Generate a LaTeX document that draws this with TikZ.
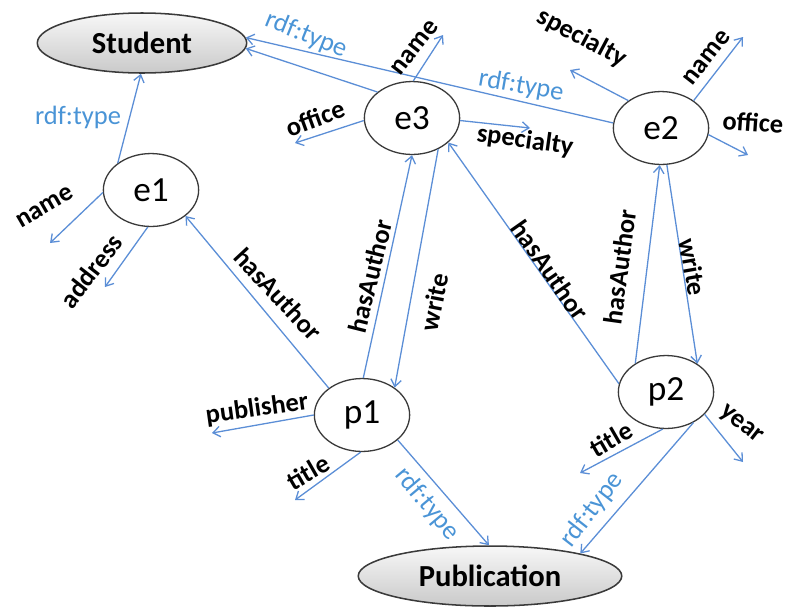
\documentclass[tikz,border=0pt]{standalone}
\usepackage{fontspec}
\setmainfont{Carlito}
\usetikzlibrary{arrows.meta,shapes.geometric}
\definecolor{linkblue}{HTML}{5B8ED6}
\definecolor{typeblue}{HTML}{4A94D6}
\definecolor{rimgray}{HTML}{3A3A3A}
\tikzset{
  ent/.style={ellipse, draw=rimgray, line width=1.1pt, fill=white,
    minimum width=81pt, minimum height=62pt, inner sep=0pt,
    font=\fontsize{30}{30}\selectfont},
  cls/.style={ellipse, draw=rimgray, line width=1.3pt, top color=gray!6,
    bottom color=gray!42, minimum height=51pt, inner sep=0pt,
    font=\bfseries\fontsize{26}{28}\selectfont},
  link/.style={-{Straight Barb[length=6pt,width=9pt]}, line width=1.1pt, draw=linkblue},
  prop/.style={font=\bfseries\fontsize{22.5}{24}\selectfont, inner sep=0pt},
  typ/.style={font=\fontsize{22.5}{24}\selectfont, text=typeblue, inner sep=0pt},
}

\begin{document}
\begin{tikzpicture}[x=0.85pt,y=-0.85pt]
  \useasboundingbox (0,0) rectangle (797,607);
  % classes
  \node[cls, minimum width=178pt] (student) at (142,43) {Student};
  \node[cls, minimum width=224pt] (publication) at (490,576) {Publication};
  % resources
  \node[ent] (e1) at (151,190) {e1};
  \node[ent] (e3) at (412,118) {e3};
  \node[ent] (e2) at (661,128) {e2};
  \node[ent] (p1) at (362,415) {p1};
  \node[ent] (p2) at (666,392) {p2};
  % free ends of the literal properties
  \coordinate (e1name) at (50,243);
  \coordinate (e1addr) at (105,287);
  \coordinate (e3name) at (443,35);
  \coordinate (e3office) at (295,143);
  \coordinate (e3spec) at (530,128);
  \coordinate (e2spec) at (570,70);
  \coordinate (e2name) at (743,37);
  \coordinate (e2office) at (748,155);
  \coordinate (p1pub) at (212,433);
  \coordinate (p1title) at (295,500);
  \coordinate (p2title) at (580,473);
  \coordinate (p2year) at (743,462);

  % rdf:type links
  \draw[link] (e1.141) -- (student.-92);
  \draw[link] (e3.143) -- (student.-3);
  \draw[link] (e2.174) -- (student.3);
  \draw[link] (p1.325) -- (publication.92);
  \draw[link] (p2.312) -- (publication.14);
  \node[typ] (te1) at (78,117) {rdf:type};
  \node[typ, rotate=-22] (te3) at (306,35) {rdf:type};
  \node[typ, rotate=-10] (te2) at (521,86) {rdf:type};
  \node[typ, rotate=-50] (tp1) at (427,504) {rdf:type};
  \node[typ, rotate=52] (tp2) at (592,510) {rdf:type};

  % object properties
  \draw[link] (p1.141) -- (e1.323);
  \draw[link] (p1.88) -- (e3.270);
  \draw[link] (e3.310) -- (p1.40);
  \draw[link] (p2.170) -- (e3.326);
  \draw[link] (p2.137) -- (e2.268);
  \draw[link] (e2.279) -- (p2.42);
  \node[prop, rotate=-47] (ha1) at (278,294) {hasAuthor};
  \node[prop, rotate=76] (ha2) at (370,276) {hasAuthor};
  \node[prop, rotate=79] (wr1) at (434,302) {write};
  \node[prop, rotate=-55] (ha3) at (550,270) {hasAuthor};
  \node[prop, rotate=82] (ha4) at (620,267) {hasAuthor};
  \node[prop, rotate=-80] (wr2) at (693,267) {write};

  % literal properties
  \draw[link] (e1.183) -- (e1name);
  \draw[link] (e1.265) -- (e1addr);
  \node[prop, rotate=30] (n1) at (45,207) {name};
  \node[prop, rotate=52] (a1) at (91,271) {address};
  \draw[link] (e3.88) -- (e3name);
  \draw[link] (e3.183) -- (e3office);
  \draw[link] (e3.357) -- (e3spec);
  \node[prop, rotate=52] (n3) at (415,48) {name};
  \node[prop, rotate=20] (o3) at (315,118) {office};
  \node[prop, rotate=-8] (s3) at (525,141) {specialty};
  \draw[link] (e2.140) -- (e2spec);
  \draw[link] (e2.40) -- (e2name);
  \draw[link] (e2.352) -- (e2office);
  \node[prop, rotate=-28] (s2) at (582,38) {specialty};
  \node[prop, rotate=52] (n2) at (707,58) {name};
  \node[prop, rotate=-4] (o2) at (753,122) {office};
  \draw[link] (p1.180) -- (p1pub);
  \draw[link] (p1.268) -- (p1title);
  \node[prop, rotate=8] (pb1) at (257,409) {publisher};
  \node[prop, rotate=30] (ti1) at (308,472) {title};
  \draw[link] (p2.265) -- (p2title);
  \draw[link] (p2.330) -- (p2year);
  \node[prop, rotate=30] (ti2) at (611,439) {title};
  \node[prop, rotate=-38] (yr2) at (741,425) {year};
\end{tikzpicture}
\end{document}
